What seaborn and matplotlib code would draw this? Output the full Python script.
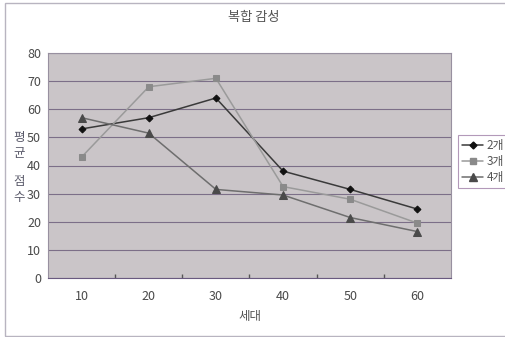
import matplotlib
matplotlib.use("Agg")
import matplotlib.pyplot as plt
import seaborn as sns
import pandas as pd
from matplotlib.lines import Line2D
from matplotlib.patches import Rectangle

# Average scores by age group for combined-emotion items
ages = ["10", "20", "30", "40", "50", "60"]
series_names = ["2개", "3개", "4개"]
scores_2 = [53, 57, 64, 38, 31.5, 24.5]
scores_3 = [43, 68, 71, 32.5, 28, 19.5]
scores_4 = [57, 51.5, 31.5, 29.5, 21.5, 16.5]
y_ticks = [0, 10, 20, 30, 40, 50, 60, 70, 80]

title = "복합 감성"
x_label = "세대"
y_label_chars = ["평", "균", "점", "수"]

sns.set_theme(style="white")
plt.rcParams["font.family"] = ["Noto Sans CJK KR", "DejaVu Sans"]

df = pd.DataFrame({
    "세대": ages * 3,
    "점수": scores_2 + scores_3 + scores_4,
    "계열": [series_names[0]] * 6 + [series_names[1]] * 6 + [series_names[2]] * 6,
})

line_colors = {"2개": "#3a3a3a", "3개": "#9a9a9a", "4개": "#6e6e6e"}
marker_colors = {"2개": "#111111", "3개": "#8a8a8a", "4개": "#4a4a4a"}
markers = {"2개": "D", "3개": "s", "4개": "^"}
msizes = {"2개": 3.5, "3개": 4.5, "4개": 6}

fig = plt.figure(figsize=(5.06, 3.37), dpi=100)
fig.patch.set_facecolor("white")

# thin frame around the chart
fig.add_artist(Rectangle((5 / 506, 1 / 337), 1.2, 333 / 337, transform=fig.transFigure,
                         fill=False, edgecolor="#b8b4c0", linewidth=1.0))

ax = fig.add_axes([48 / 506, 1 - 278 / 337, (451 - 48) / 506, (278 - 53) / 337])
ax.set_facecolor("#cac5c8")

for name in series_names:
    sub = df[df["계열"] == name]
    sns.lineplot(data=sub, x="세대", y="점수", ax=ax, color=line_colors[name],
                 marker=markers[name], markersize=msizes[name],
                 markerfacecolor=marker_colors[name], markeredgecolor=marker_colors[name],
                 linewidth=1.1, sort=False, legend=False, zorder=3)

ax.set_ylim(0, 80)
ax.set_xlim(-0.5, len(ages) - 0.5)
ax.set_yticks(y_ticks)
ax.set_xticks(range(len(ages)))
ax.set_xticklabels(ages)
ax.set_xticks([i + 0.5 for i in range(len(ages) - 1)], minor=True)
ax.yaxis.grid(True, color="#7c6f88", linewidth=0.8)
ax.set_axisbelow(True)
ax.tick_params(axis="both", which="major", length=0, labelsize=9, labelcolor="#4a4a4a")
ax.tick_params(axis="y", pad=5)
ax.tick_params(axis="x", pad=9)
ax.tick_params(axis="x", which="minor", length=3, direction="in", color="#555555", bottom=True)
for s in ax.spines.values():
    s.set_color("#9890a0")
    s.set_linewidth(0.8)
ax.spines["bottom"].set_color("#6a5a80")

ax.set_xlabel(x_label, fontsize=9, color="#555555", labelpad=5)
ax.set_ylabel("")

# vertical axis title, one syllable per row
for ch, ypix in zip(y_label_chars, [138, 153, 182, 197]):
    fig.text(19 / 506, 1 - ypix / 337, ch, fontsize=9, color="#5a5a6a",
             ha="center", va="center", rotation=0)

fig.text(254 / 506, 1 - 18 / 337, title, fontsize=9.5, color="#555555", ha="center", va="center")

handles = [Line2D([], [], color=line_colors[n], marker=markers[n], markersize=msizes[n],
                  markerfacecolor=marker_colors[n], markeredgecolor=marker_colors[n],
                  linewidth=1.1) for n in series_names]
leg = fig.legend(handles, series_names, loc="upper left",
                 bbox_to_anchor=(458 / 506, 1 - 135 / 337), frameon=True, fancybox=False,
                 fontsize=8.5, handlelength=1.8, handletextpad=0.3, borderpad=0.35,
                 labelspacing=0.25, borderaxespad=0)
leg.get_frame().set_edgecolor("#a080a8")
leg.get_frame().set_linewidth(0.8)
for t in leg.get_texts():
    t.set_color("#555555")

fig.savefig("out.png", dpi=100, facecolor="white")
